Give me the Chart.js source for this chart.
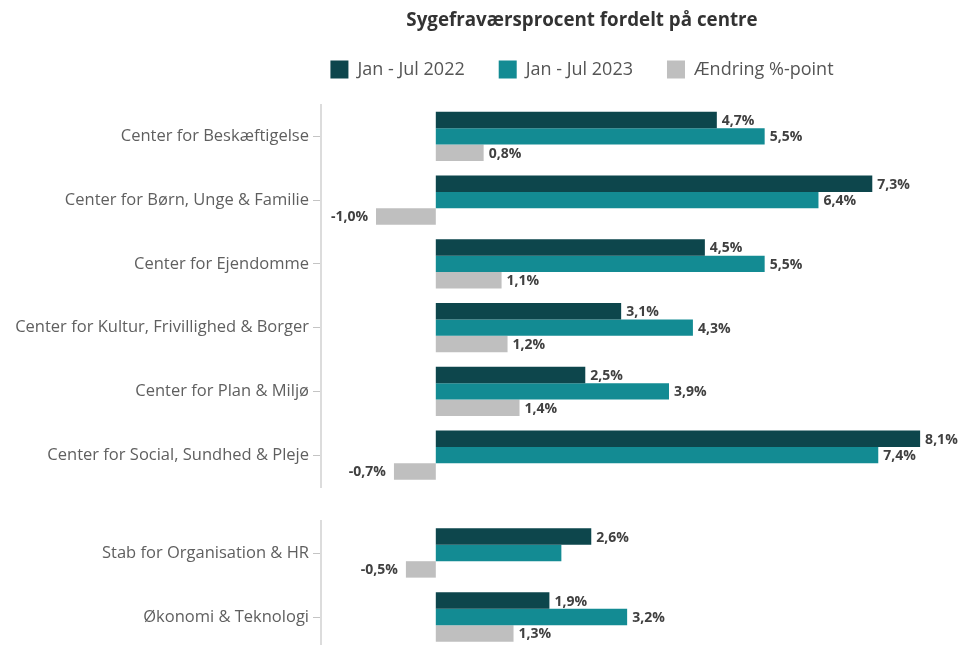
<!DOCTYPE html>
<html lang="da">
<head>
<meta charset="utf-8">
<title>Sygefraværsprocent fordelt på centre</title>
<script src="https://cdn.jsdelivr.net/npm/chart.js@4.4.0/dist/chart.umd.min.js"></script>
<style>
  html, body { margin: 0; padding: 0; background: #fff; }
  body { width: 962px; height: 645px; overflow: hidden; position: relative; }
  canvas { position: absolute; left: 0; }
  #chart-centre { top: 0; }
  #chart-stab { top: 493px; }
</style>
</head>
<body>
<canvas id="chart-centre" width="962" height="493"></canvas>
<canvas id="chart-stab" width="962" height="160"></canvas>
<script>
const categories = [
  'Center for Beskæftigelse',
  'Center for Børn, Unge & Familie',
  'Center for Ejendomme',
  'Center for Kultur, Frivillighed & Borger',
  'Center for Plan & Miljø',
  'Center for Social, Sundhed & Pleje',
  'Stab for Organisation & HR',
  'Økonomi & Teknologi',
];
const values2022 = [4.7, 7.3, 4.5, 3.1, 2.5, 8.1, 2.6, 1.9];
const values2023 = [5.5, 6.4, 5.5, 4.3, 3.9, 7.4, 2.1, 3.2];
const changes = [0.8, -1.0, 1.1, 1.2, 1.4, -0.7, -0.5, 1.3];
const seriesNames = ['Jan - Jul 2022', 'Jan - Jul 2023', 'Ændring %-point'];
const centreCount = 6;

// Labels the original leaves out.
const hiddenLabels = [['Stab for Organisation & HR', 1]];

const COLORS = ['#0d464c', '#138b93', '#bfbfbf'];
const FONT = '"Open Sans", "Noto Sans", sans-serif';
const AXIS_GREY = '#dcdcdc';
const HEADER_SPAN = { left: 208, right: 956 };

const formatPercent = (value) => `${value.toFixed(1).replace('.', ',')}%`;

// Draw value labels next to the bar ends.
const barLabels = {
  id: 'barLabels',
  afterDatasetsDraw(chart) {
    const { ctx } = chart;
    ctx.save();
    ctx.font = `bold 14px ${FONT}`;
    ctx.fillStyle = '#404040';
    ctx.textBaseline = 'middle';

    chart.data.datasets.forEach((dataset, di) => {
      chart.getDatasetMeta(di).data.forEach((bar, i) => {
        const label = chart.data.labels[i];
        if (hiddenLabels.some(([name, idx]) => name === label && idx === di)) return;

        const value = dataset.data[i];
        const negative = value < 0;
        ctx.textAlign = negative ? 'right' : 'left';
        ctx.fillText(formatPercent(value), bar.x + (negative ? -8 : 5), bar.y + 1);
      });
    });
    ctx.restore();
  },
};

// The header sits centred over plot + labels, not over the whole canvas.
const shiftHeader = {
  id: 'shiftHeader',
  afterLayout(chart) {
    [chart.titleBlock, chart.legend].forEach((box) => {
      if (!box) return;
      box.left = HEADER_SPAN.left;
      box.right = HEADER_SPAN.right;
      box.width = HEADER_SPAN.right - HEADER_SPAN.left;
    });
  },
};

function datasetsFor(start, end) {
  return [values2022, values2023, changes].map((values, i) => ({
    label: seriesNames[i],
    data: values.slice(start, end),
    backgroundColor: COLORS[i],
    borderWidth: 0,
    categoryPercentage: 0.77,
    barPercentage: 1,
  }));
}

function baseOptions(showHeader, topGap, bottomPad) {
  return {
    indexAxis: 'y',
    responsive: false,
    animation: false,
    layout: { padding: { left: 0, right: 6, top: 0, bottom: bottomPad } },
    plugins: {
      tooltip: { enabled: false },
      title: {
        display: showHeader,
        text: 'Sygefraværsprocent fordelt på centre',
        color: '#333333',
        font: { family: FONT, size: 18.75, weight: 'bold', lineHeight: 1.2 },
        padding: { top: 9, bottom: -5 },
      },
      legend: {
        display: showHeader,
        position: 'top',
        labels: {
          color: '#555555',
          font: { family: FONT, size: 18 },
          boxWidth: 18,
          boxHeight: 18,
          padding: 34,
        },
      },
    },
    scales: {
      x: {
        position: 'top',
        min: -1.92,
        max: 8.7,
        afterFit: (scale) => { scale.height = topGap; },
        grid: { display: false },
        border: { display: false },
        ticks: { display: false },
      },
      y: {
        afterFit: (scale) => {
          scale.width = 321;
          scale.paddingTop = 0;
          scale.paddingBottom = 0;
        },
        grid: {
          display: true,
          offset: false,
          drawOnChartArea: false,
          drawTicks: true,
          tickLength: 8,
          tickColor: '#c4c4c4',
          color: AXIS_GREY,
          lineWidth: 1,
        },
        border: { display: true, color: AXIS_GREY, width: 2 },
        ticks: {
          color: '#5f5f5f',
          padding: 4,
          font: { family: FONT, size: 16.5 },
        },
      },
    },
  };
}

new Chart(document.getElementById('chart-centre'), {
  type: 'bar',
  data: {
    labels: categories.slice(0, centreCount),
    datasets: datasetsFor(0, centreCount),
  },
  options: baseOptions(true, 16, 6),
  plugins: [barLabels, shiftHeader],
});

new Chart(document.getElementById('chart-stab'), {
  type: 'bar',
  data: {
    labels: categories.slice(centreCount),
    datasets: datasetsFor(centreCount, categories.length),
  },
  options: baseOptions(false, 28, 4),
  plugins: [barLabels],
});
</script>
</body>
</html>
